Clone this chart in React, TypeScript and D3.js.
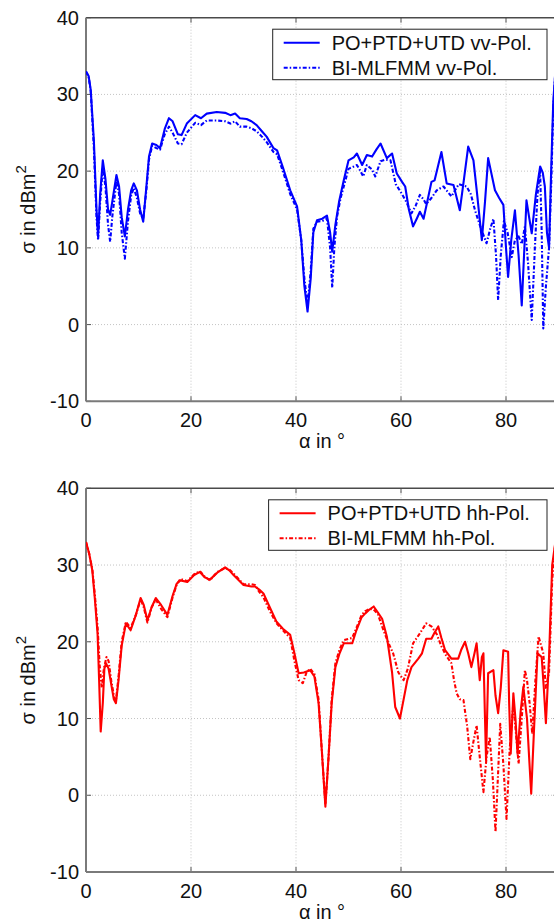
import React from "react";
import * as d3 from "d3";

// ---- data (alpha in deg, sigma in dBm^2) ----
const vvPoAngles = [0, 0.5, 0.9, 1.5, 2.0, 2.3, 2.7, 3.2, 3.7, 4.2, 4.6, 5.0, 5.8, 6.3, 6.8, 7.4, 8.0, 8.6, 9.1, 9.7, 10.3, 10.9, 11.5, 12.0, 12.6, 13.4, 14.1, 15.0, 15.8, 16.5, 17.5, 18.2, 19.2, 20.8, 21.9, 23.0, 24.9, 26.5, 27.5, 28.4, 29.3, 30.6, 31.5, 32.5, 33.5, 34.4, 35.7, 36.4, 37.5, 38.9, 40.2, 41.0, 41.6, 42.2, 42.8, 43.3, 44.0, 45.0, 45.9, 46.5, 46.9, 47.5, 48.2, 49.1, 50.0, 51.0, 51.6, 52.6, 53.5, 54.5, 55.3, 56.1, 57.3, 58.3, 59.2, 60.2, 60.8, 61.5, 62.3, 63.0, 63.6, 64.3, 65.0, 65.8, 66.4, 67.0, 67.7, 68.7, 70.0, 71.2, 72.0, 72.8, 73.8, 74.5, 75.4, 76.0, 76.6, 77.9, 78.7, 79.5, 80.0, 80.4, 81.0, 81.7, 82.4, 83.0, 83.5, 83.9, 84.4, 84.9, 85.7, 86.5, 87.0, 87.4, 87.8, 88.2, 88.6, 89.0, 89.4, 90];
const vvPoValues = [33.0, 32.4, 30.6, 24, 15, 11.5, 17, 21.4, 19, 15, 14.3, 16, 19.5, 18, 14, 11.5, 15, 17.5, 18.4, 17.5, 15, 13.4, 18, 21.9, 23.6, 23.4, 23.0, 25.5, 26.9, 26.5, 24.8, 24.7, 26.2, 27.3, 26.9, 27.5, 27.7, 27.6, 27.3, 27.5, 26.9, 26.8, 26.5, 26.0, 25.2, 24.5, 23.0, 22.7, 20.5, 17.5, 15.4, 11, 5, 1.7, 6, 12, 13.6, 13.8, 14.2, 12, 9.5, 13, 16, 18.8, 21.4, 21.8, 22.3, 20.8, 22.1, 21.9, 22.8, 23.6, 21.7, 22.3, 19.7, 18.6, 18.0, 15, 12.8, 13.8, 14.7, 13.8, 16, 18.6, 18.8, 20.5, 22.5, 18.4, 18.2, 14.9, 19, 23.2, 21.4, 17, 11.0, 16, 21.7, 17.5, 16.5, 15.6, 10, 6.2, 11, 14.9, 9, 2.5, 10, 16.2, 14, 11.9, 17, 20.6, 19.8, 18, 12, 10, 20, 29, 33, 34];

const vvMlAngles = [0, 0.5, 0.9, 1.5, 2.0, 2.3, 2.7, 3.2, 3.7, 4.2, 4.6, 5.0, 5.8, 6.3, 6.8, 7.4, 8.0, 8.6, 9.1, 9.7, 10.3, 10.9, 11.5, 12.0, 12.6, 13.4, 14.1, 15.0, 15.8, 16.5, 17.5, 18.2, 19.2, 20.8, 21.9, 23.0, 24.9, 26.5, 27.5, 28.4, 29.3, 30.6, 31.5, 32.5, 33.5, 34.4, 35.7, 36.4, 37.5, 38.9, 40.2, 41.0, 41.6, 42.2, 42.8, 43.3, 44.0, 45.0, 45.9, 46.5, 46.9, 47.3, 47.8, 48.5, 49.1, 50.0, 51.0, 51.6, 52.2, 52.8, 53.5, 54.5, 55.1, 56.1, 57.0, 58.0, 59.0, 60.2, 61.0, 62.0, 62.8, 63.6, 64.3, 64.8, 65.8, 66.8, 68.1, 69.6, 71.0, 72.5, 73.3, 74.1, 75.0, 75.8, 76.3, 77.0, 77.6, 78.1, 78.5, 79.0, 79.6, 80.3, 81.1, 81.7, 82.4, 83.0, 83.6, 84.2, 84.9, 85.5, 86.0, 86.5, 86.8, 87.1, 87.6, 88.2, 88.6, 89.0, 89.4, 90];
const vvMlValues = [33.0, 32.3, 30.4, 23, 14, 11.0, 16, 20.5, 18, 13, 10.8, 14, 18.7, 17, 12, 8.6, 13.5, 16.8, 17.8, 16.5, 14.5, 13.8, 17.5, 21.5, 23.3, 23.0, 22.8, 24.8, 25.8, 25.0, 23.6, 23.5, 25.0, 26.3, 26.0, 26.6, 26.6, 26.5, 26.2, 26.5, 25.8, 25.8, 25.6, 25.2, 24.5, 23.8, 22.5, 22.2, 20, 17, 15.0, 11, 6, 2.5, 7, 12.5, 13.4, 13.5, 13.8, 10, 4.8, 10, 14, 16.5, 18, 20.3, 20.6, 20.8, 20.1, 19.3, 20.8, 20.2, 19.3, 21.3, 21.5, 21.4, 18.3, 17.0, 16, 14.5, 15.5, 16.9, 16.3, 15.7, 16.5, 17.5, 18.0, 16.7, 18.3, 18.0, 17, 14.9, 13, 11.5, 10.6, 12.5, 13.8, 9, 3.2, 9, 13.5, 12, 8.8, 11, 11.5, 10.5, 12.8, 8, 0.6, 10, 17, 19.9, 12, -0.5, 5, 10, 18, 28, 33, 34];

const hhPoAngles = [0, 0.6, 1.2, 1.7, 2.2, 2.5, 2.8, 3.2, 3.5, 3.8, 4.3, 4.8, 5.3, 5.7, 6.2, 6.8, 7.6, 8.5, 9.5, 10.4, 11.0, 11.7, 12.5, 13.3, 14.3, 15.5, 16.5, 17.3, 18.0, 19.3, 20.6, 21.7, 22.6, 23.6, 25.0, 26.5, 27.3, 28.1, 30.0, 31.5, 32.2, 33.0, 33.8, 35.0, 36.3, 37.5, 38.9, 39.7, 40.5, 41.5, 42.7, 43.5, 44.3, 44.9, 45.6, 46.2, 46.8, 47.5, 48.3, 49.1, 50.7, 51.5, 52.5, 53.2, 54.0, 54.8, 55.6, 56.4, 57.3, 58.3, 58.9, 59.8, 60.5, 61.2, 62.0, 63.3, 64.0, 64.8, 65.8, 66.4, 67.1, 67.7, 68.4, 69.6, 70.9, 71.5, 72.2, 72.8, 73.4, 74.0, 74.4, 75.0, 75.4, 75.7, 76.0, 76.2, 76.6, 77.6, 78.0, 78.5, 79.0, 79.5, 80.4, 80.6, 80.9, 81.4, 81.8, 82.2, 82.8, 83.3, 84.0, 84.4, 84.8, 85.3, 86.0, 86.8, 87.2, 87.6, 88.2, 88.8, 89.4, 90];
const hhPoValues = [33.0, 31.5, 29.3, 25.5, 21.1, 15, 8.3, 12, 16.5, 17.2, 16.5, 14.5, 12.5, 12.0, 15, 19.5, 22.4, 21.5, 23.5, 25.7, 24.8, 22.8, 24.5, 25.7, 24.8, 23.5, 26, 27.6, 28.0, 27.8, 28.7, 29.1, 28.4, 28.1, 29.0, 29.7, 29.3, 28.7, 27.4, 27.2, 27.2, 26.8, 26.3, 24.5, 22.6, 21.7, 20.9, 18.5, 15.9, 16.0, 16.3, 15.5, 12, 6, -1.5, 5, 12, 16.7, 18.5, 19.8, 19.8, 21.5, 23.2, 23.7, 24.2, 24.6, 23.8, 23.0, 20.7, 16, 11.5, 10.0, 12.5, 15, 16.7, 17.8, 18.5, 20.4, 20.4, 21.2, 22.0, 20.5, 18.9, 17.8, 17.8, 19, 20.0, 18.5, 16.7, 18.5, 19.8, 15.0, 18, 18.5, 10, 4.6, 15.9, 16.3, 13, 10.7, 14, 18.9, 18.7, 12, 5.4, 13.3, 10, 5.4, 11, 14.1, 10, 5, 0.2, 8, 18.5, 18.0, 14, 9.4, 18, 30, 33, 34];

const hhMlAngles = [0, 0.6, 1.2, 1.7, 2.2, 2.6, 3.0, 3.4, 3.9, 4.3, 4.8, 5.3, 5.7, 6.2, 6.8, 7.6, 8.5, 9.5, 10.4, 11.0, 11.7, 12.5, 13.3, 14.3, 15.5, 16.5, 17.3, 18.0, 19.3, 20.6, 21.7, 22.6, 23.6, 25.0, 26.5, 27.3, 28.1, 30.0, 31.5, 32.2, 33.0, 33.8, 35.0, 36.3, 37.5, 38.9, 39.7, 40.5, 41.3, 42.0, 42.7, 43.5, 44.3, 44.9, 45.6, 46.2, 46.8, 47.5, 48.3, 49.1, 50.7, 51.5, 52.5, 53.2, 54.0, 54.8, 55.6, 56.4, 57.5, 58.5, 59.5, 60.5, 61.3, 62.3, 63.5, 64.8, 65.8, 66.8, 67.7, 68.6, 69.6, 70.1, 70.6, 71.2, 71.9, 72.6, 73.2, 73.8, 74.4, 75.0, 75.7, 76.3, 76.9, 77.5, 78.0, 78.5, 78.9, 79.5, 80.1, 80.7, 81.4, 81.9, 82.4, 83.0, 83.6, 84.0, 84.5, 85.0, 85.6, 86.2, 87.1, 87.6, 88.2, 88.8, 89.4, 90];
const hhMlValues = [33.0, 31.5, 29.5, 26, 22, 17, 14, 16.5, 18.0, 17.5, 15, 13, 12.3, 15.5, 20, 22.6, 21.8, 23.5, 25.5, 24.5, 22.5, 24.5, 25.5, 24.3, 23.2, 25.8, 27.5, 28.2, 27.9, 28.8, 29.2, 28.5, 28.0, 29.1, 29.6, 29.4, 28.9, 27.5, 27.5, 27.4, 26.5, 25.8, 24.0, 22.4, 21.5, 20.5, 17.5, 15.0, 14.6, 16.0, 16.5, 15.8, 12.5, 6, -1.2, 5, 12.5, 17.2, 19.0, 20.2, 20.5, 21.8, 23.5, 24.0, 24.3, 24.2, 23.6, 22.0, 20.0, 18.5, 16.0, 15.0, 16.5, 19.8, 21.0, 22.4, 22.0, 21.0, 19.4, 18.2, 17.2, 15, 13.3, 12.5, 12.4, 9, 4.7, 7, 9.1, 5, 0.4, 5, 7.6, 2, -4.8, 3, 9.3, 4, -3.1, 6, 12.0, 8, 4.1, 10, 16.3, 15, 12, 8, 15, 20.7, 18.5, 14, 16, 28, 33, 34];

const xTicks = [0, 20, 40, 60, 80];
const yTicks = [-10, 0, 10, 20, 30, 40];

const FONT = "'Liberation Sans', Arial, Helvetica, sans-serif";

type Series = { angles: number[]; values: number[]; label: string; dashed: boolean };

function Panel({ top, bottom, color, series, legendWidth }: {
  top: number; bottom: number; color: string; series: Series[]; legendWidth: number;
}) {
  const x = d3.scaleLinear().domain([0, 90]).range([86, 558.5]);
  const y = d3.scaleLinear().domain([-10, 40]).range([bottom, top]);
  const [x0, x1] = x.range();
  const line = d3.line<[number, number]>().x(d => x(d[0])).y(d => y(d[1]));
  const dash = "4,2,1.5,2";
  const legRight = 547;
  const legTop = top + 11.5;
  const legLeft = legRight - legendWidth;
  const midY = (top + bottom) / 2;

  return (
    <g>
      <defs>
        <clipPath id={"clip" + Math.round(top)}>
          <rect x={x0} y={top} width={x1 - x0} height={bottom - top} />
        </clipPath>
      </defs>
      {/* grid */}
      {xTicks.filter(t => t > 0).map(t => (
        <line key={"gx" + t} x1={x(t)} x2={x(t)} y1={top} y2={bottom}
          stroke="#c4c4c4" strokeWidth={1} strokeDasharray="1,2" />
      ))}
      {yTicks.filter(t => t > -10 && t < 40).map(t => (
        <line key={"gy" + t} x1={x0} x2={x1} y1={y(t)} y2={y(t)}
          stroke="#c4c4c4" strokeWidth={1} strokeDasharray="1,2" />
      ))}
      {/* ticks, inward */}
      {xTicks.map(t => (
        <g key={"tx" + t}>
          <line x1={x(t)} x2={x(t)} y1={bottom} y2={bottom - 5} stroke="#555" strokeWidth={1} />
          <line x1={x(t)} x2={x(t)} y1={top} y2={top + 5} stroke="#555" strokeWidth={1} />
          <text x={x(t)} y={bottom + 25.5} textAnchor="middle" fontSize={20} fontFamily={FONT} fill="#111">{t}</text>
        </g>
      ))}
      {yTicks.map(t => (
        <g key={"ty" + t}>
          <line x1={x0} x2={x0 + 5} y1={y(t)} y2={y(t)} stroke="#555" strokeWidth={1} />
          <line x1={x1} x2={x1 - 5} y1={y(t)} y2={y(t)} stroke="#555" strokeWidth={1} />
          <text x={79} y={y(t)} dy="0.35em" textAnchor="end" fontSize={20} fontFamily={FONT} fill="#111">{t}</text>
        </g>
      ))}
      {/* axis box */}
      <line x1={x0} x2={x1} y1={top} y2={top} stroke="#4a4a4a" strokeWidth={1.5} />
      <line x1={x0} x2={x1} y1={bottom} y2={bottom} stroke="#7a7a7a" strokeWidth={2} />
      <line x1={x0} x2={x0} y1={top} y2={bottom} stroke="#7a7a7a" strokeWidth={2} />
      <line x1={x1} x2={x1} y1={top} y2={bottom} stroke="#7a7a7a" strokeWidth={2} />

      {/* curves */}
      <g clipPath={`url(#clip${Math.round(top)})`}>
        {series.map((s, i) => (
          <path key={"s" + i}
            d={line(s.angles.map((a, j) => [a, s.values[j]] as [number, number])) || ""}
            fill="none" stroke={color} strokeWidth={2.1} strokeLinejoin="round"
            strokeDasharray={s.dashed ? dash : undefined} />
        ))}
      </g>

      {/* legend */}
      <rect x={legLeft} y={legTop} width={legendWidth} height={50.5} fill="#fff" stroke="#222" strokeWidth={1} />
      {series.map((s, i) => {
        const ry = legTop + 13.5 + i * 25;
        return (
          <g key={"l" + i}>
            <line x1={legLeft + 11} x2={legLeft + 47} y1={ry} y2={ry} stroke={color} strokeWidth={2}
              strokeDasharray={s.dashed ? dash : undefined} />
            <text x={legLeft + 59} y={ry} dy="0.35em" fontSize={20} fontFamily={FONT} fill="#111">{s.label}</text>
          </g>
        );
      })}

      {/* axis labels */}
      <text x={322} y={bottom + 47} textAnchor="middle" fontSize={20} fontFamily={FONT} fill="#111">α in °</text>
      <text transform={`translate(35,${midY}) rotate(-90)`} textAnchor="middle" fontSize={20} fontFamily={FONT} fill="#111">
        σ in dBm<tspan dy={-9} fontSize={15}>2</tspan>
      </text>
    </g>
  );
}

export default function App() {
  return (
    <svg width={554} height={924} style={{ position: "absolute", left: 0, top: 0, background: "#fff" }}>
      <rect width={554} height={924} fill="#fff" />
      <Panel top={17.7} bottom={401.3} color="#0000ff" legendWidth={274.3}
        series={[
          { angles: vvPoAngles, values: vvPoValues, label: "PO+PTD+UTD vv-Pol.", dashed: false },
          { angles: vvMlAngles, values: vvMlValues, label: "BI-MLFMM vv-Pol.", dashed: true },
        ]} />
      <Panel top={488.3} bottom={872} color="#ff0000" legendWidth={278.4}
        series={[
          { angles: hhPoAngles, values: hhPoValues, label: "PO+PTD+UTD hh-Pol.", dashed: false },
          { angles: hhMlAngles, values: hhMlValues, label: "BI-MLFMM hh-Pol.", dashed: true },
        ]} />
    </svg>
  );
}
